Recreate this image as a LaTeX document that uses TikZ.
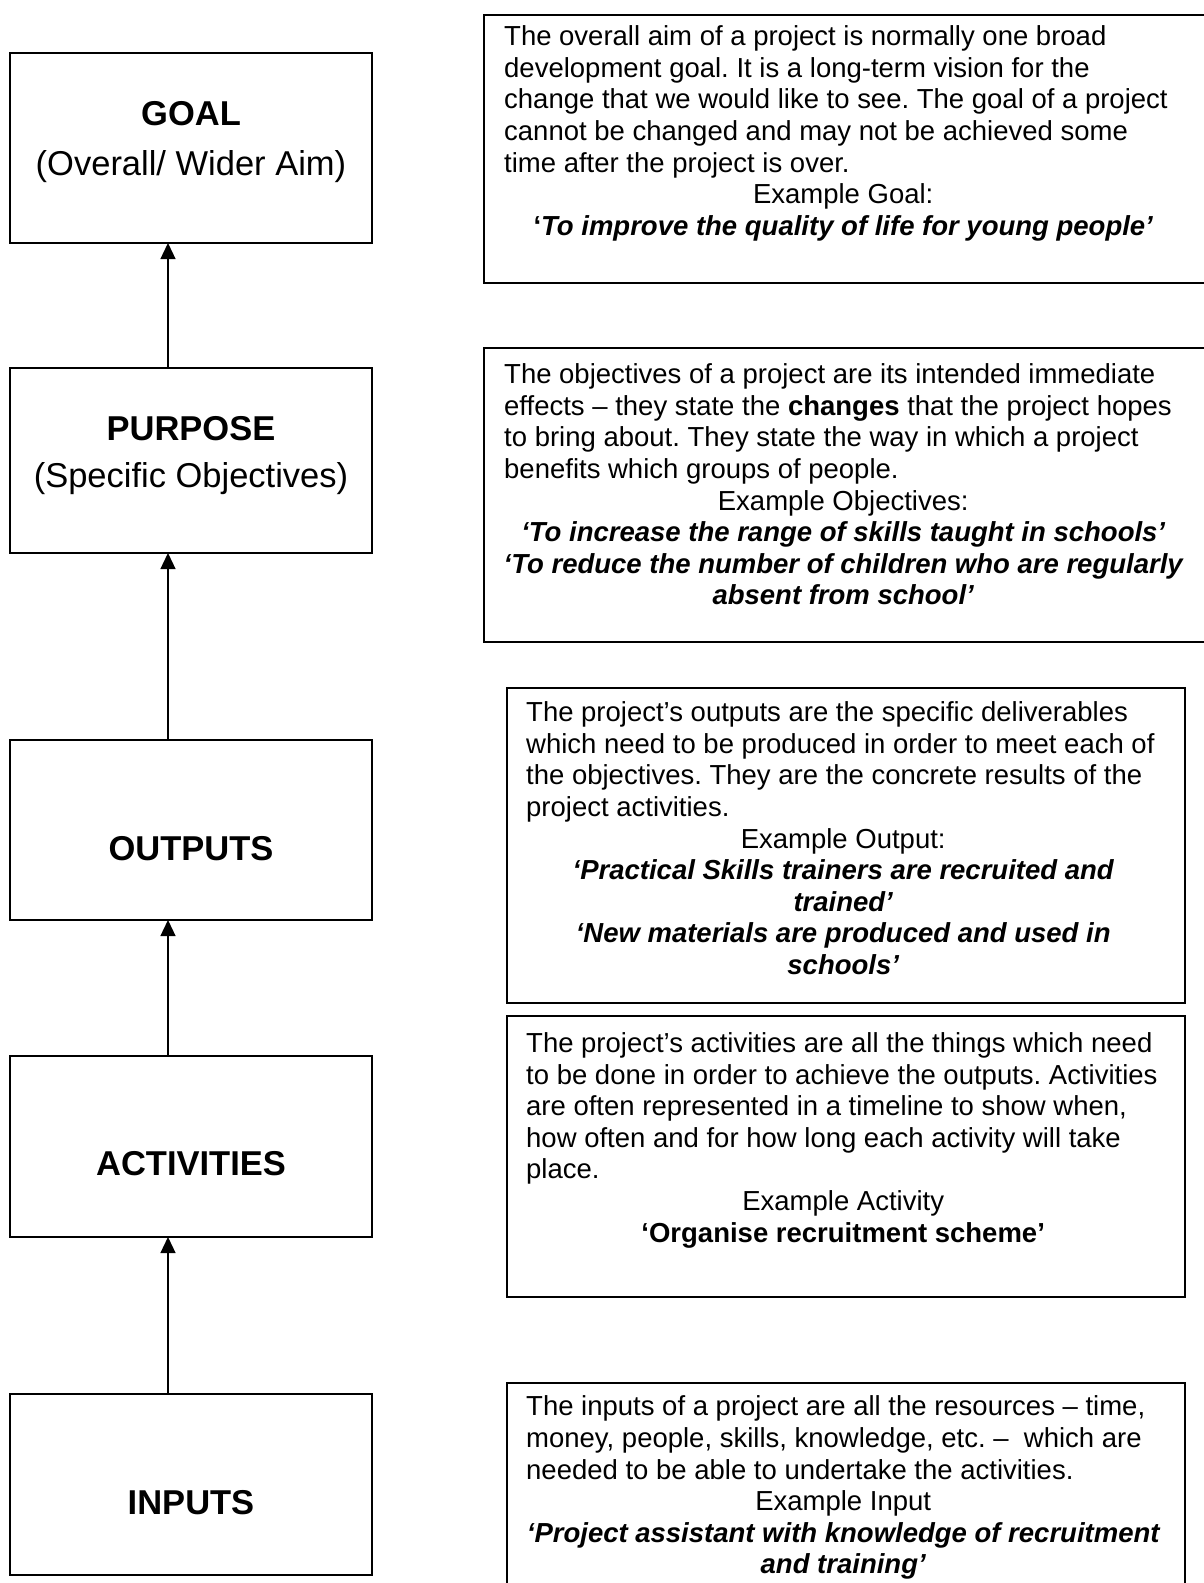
\documentclass[tikz,border=0pt]{standalone}
\usepackage{fontspec}
\setmainfont{Liberation Sans}
\usetikzlibrary{arrows.meta}
\frenchspacing

% one text line, flush left or centred in the current \hsize
\newcommand\lftline[1]{\hbox{\strut #1}}
\newcommand\ctrline[1]{\hbox to\hsize{\hss\strut #1\hss}}
\newcommand\ex[1]{{\bfseries\itshape #1}}

\begin{document}
\begin{tikzpicture}[x=1pt,y=-1pt,
  stagebox/.style={draw, line width=1.6pt, minimum width=362pt, inner sep=0pt, outer sep=0pt},
  descbox/.style={draw, line width=1.6pt, inner sep=0pt, outer sep=0pt},
  stagelbl/.style={anchor=base, inner sep=0pt, font=\fontsize{34.5}{40}\selectfont},
  desctext/.style={anchor=north west, inner sep=0pt, font=\fontsize{27.5}{31.6}\selectfont},
  uparrow/.style={line width=1.3pt, -{Triangle[width=15pt,length=16pt]}}]

\fill[white] (0,0) rectangle (1204,1583);
\useasboundingbox (0,0) rectangle (1204,1583);
\clip (0,0) rectangle (1204,1583);

% ---- the five stages of the hierarchy ----
\node[stagebox, minimum height=190pt] (goal)       at (191,148)    {};
\node[stagebox, minimum height=185pt] (purpose)    at (191,460.5)  {};
\node[stagebox, minimum height=180pt] (outputs)    at (191,830)    {};
\node[stagebox, minimum height=181pt] (activities) at (191,1146.5) {};
\node[stagebox, minimum height=181pt] (inputs)     at (191,1484.5) {};

\node[stagelbl] (goalname)    at (191,125.5)  {\bfseries GOAL};
\node[stagelbl] (goalsub)     at (191,175.5)  {(Overall/ Wider Aim)};
\node[stagelbl] (purposename) at (191,440.5)  {\bfseries PURPOSE};
\node[stagelbl] (purposesub)  at (191,487.5)  {(Specific Objectives)};
\node[stagelbl] (outputsname) at (191,860.5)  {\bfseries OUTPUTS};
\node[stagelbl] (actname)     at (191,1175.5) {\bfseries ACTIVITIES};
\node[stagelbl] (inputsname)  at (191,1514.5) {\bfseries INPUTS};

% ---- upward links ----
\coordinate (axis) at (168,0);
\draw[uparrow] (purpose.north -| axis)    -- (goal.south -| axis);
\draw[uparrow] (outputs.north -| axis)    -- (purpose.south -| axis);
\draw[uparrow] (activities.north -| axis) -- (outputs.south -| axis);
\draw[uparrow] (inputs.north -| axis)     -- (activities.south -| axis);

% ---- explanation boxes ----
\node[descbox, minimum width=746pt, minimum height=268pt] (goaldesc)       at (857,149)    {};
\node[descbox, minimum width=746pt, minimum height=294pt] (purposedesc)    at (857,495)    {};
\node[descbox, minimum width=678pt, minimum height=315pt] (outputsdesc)    at (846,845.5)  {};
\node[descbox, minimum width=678pt, minimum height=281pt] (activitiesdesc) at (846,1156.5) {};
\node[descbox, minimum width=678pt, minimum height=240pt] (inputsdesc)     at (846,1503)   {};

\node[desctext] (goaltext) at (504,23.3) {\vbox{\hsize=678pt
  \lftline{The overall aim of a project is normally one broad}
  \lftline{development goal. It is a long-term vision for the}
  \lftline{change that we would like to see. The goal of a project}
  \lftline{cannot be changed and may not be achieved some}
  \lftline{time after the project is over.}
  \ctrline{Example Goal:}
  \ctrline{{\bfseries ‘}\ex{To improve the quality of life for young people’}}}};

\node[desctext] (purposetext) at (504,361.3) {\vbox{\hsize=678pt
  \lftline{The objectives of a project are its intended immediate}
  \lftline{effects – they state the \textbf{changes} that the project hopes}
  \lftline{to bring about. They state the way in which a project}
  \lftline{benefits which groups of people.}
  \ctrline{Example Objectives:}
  \ctrline{\ex{‘To increase the range of skills taught in schools’}}
  \ctrline{\ex{‘To reduce the number of children who are regularly}}
  \ctrline{\ex{absent from school’}}}};

\node[desctext] (outputstext) at (526,699.3) {\vbox{\hsize=634pt
  \lftline{The project’s outputs are the specific deliverables}
  \lftline{which need to be produced in order to meet each of}
  \lftline{the objectives. They are the concrete results of the}
  \lftline{project activities.}
  \ctrline{Example Output:}
  \ctrline{\ex{‘Practical Skills trainers are recruited and}}
  \ctrline{\ex{trained’}}
  \ctrline{\ex{‘New materials are produced and used in}}
  \ctrline{\ex{schools’}}}};

\node[desctext] (activitiestext) at (526,1030.2) {\vbox{\hsize=634pt
  \lftline{The project’s activities are all the things which need}
  \lftline{to be done in order to achieve the outputs. Activities}
  \lftline{are often represented in a timeline to show when,}
  \lftline{how often and for how long each activity will take}
  \lftline{place.}
  \ctrline{Example Activity}
  \ctrline{\textbf{‘Organise recruitment scheme’}}}};

\node[desctext] (inputstext) at (526,1393.5) {\vbox{\hsize=634pt
  \lftline{The inputs of a project are all the resources – time,}
  \lftline{money, people, skills, knowledge, etc. –\ \ which are}
  \lftline{needed to be able to undertake the activities.}
  \ctrline{Example Input}
  \ctrline{\ex{‘Project assistant with knowledge of recruitment}}
  \ctrline{\ex{and training’}}}};

\end{tikzpicture}
\end{document}
